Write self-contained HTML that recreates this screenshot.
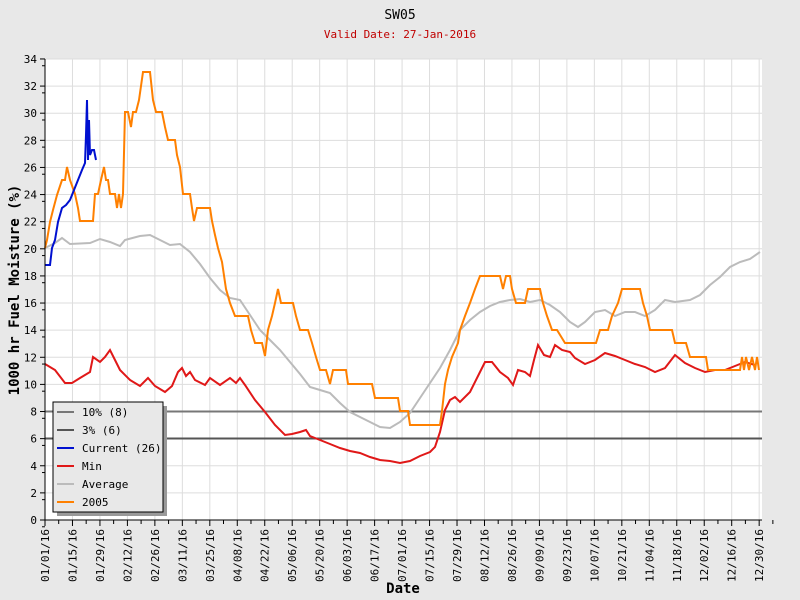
<!DOCTYPE html>
<html><head><meta charset="utf-8"><style>
html,body{margin:0;padding:0;background:#e8e8e8;}
svg{display:block;font-family:"DejaVu Sans Mono","Liberation Mono",monospace;}
</style></head><body>
<svg id="s" width="800" height="600" xmlns="http://www.w3.org/2000/svg">
<rect width="800" height="600" fill="#e8e8e8"/>
<rect x="45" y="59" width="717" height="461" fill="#fff"/>
<g id="grid"></g>
<line x1="45" y1="411.5" x2="762" y2="411.5" stroke="#777" stroke-width="2"/>
<line x1="45" y1="438.5" x2="762" y2="438.5" stroke="#555" stroke-width="2"/>
<polyline fill="none" stroke="#bbb" stroke-width="2" points="45,248 55,243 62,238 70,244 90,243 100,239 110,242 120,246 125,240 140,236 150,235 160,240 170,245 180,244 190,252 200,264 210,278 220,290 230,298 240,300 250,315 260,330 270,340 280,350 290,362 300,374 310,387 320,390 330,393 340,403 350,412 360,417 370,422 380,427 390,428 400,422 410,413 420,398 430,383 440,368 450,350 460,330 470,320 480,312 490,306 500,302 510,300 520,299 530,302 540,300 550,305 560,312 570,322 578,327 585,322 595,312 605,310 615,316 625,312 635,312 645,316 655,310 665,300 675,302 690,300 700,295 710,285 720,277 730,267 740,262 750,259 760,252"/>
<polyline fill="none" stroke="#e01818" stroke-width="2" points="45,364 55,370 65,383 72,383 80,378 90,372 93,357 100,362 105,357 110,350 115,360 120,370 130,380 140,386 148,378 155,386 165,392 172,386 178,372 182,368 186,376 190,372 195,380 205,385 210,378 220,385 230,378 236,383 240,378 245,385 255,400 265,412 275,425 285,435 292,434 300,432 306,430 310,436 320,440 330,444 340,448 350,451 360,453 370,457 380,460 390,461 400,463 410,461 420,456 430,452 435,447 440,432 445,410 450,400 455,397 460,402 470,392 478,376 485,362 492,362 500,372 508,378 513,385 518,370 525,372 530,376 534,360 538,345 544,355 550,357 555,345 562,350 570,352 575,358 585,364 595,360 605,353 615,356 625,360 635,364 645,367 655,372 665,368 675,355 685,363 695,368 705,372 715,370 725,370 735,366 745,362 755,365"/>
<polyline fill="none" stroke="#ff8000" stroke-width="2" points="45,248 47,240 50,222 53,210 57,195 62,180 65,180 67,167 70,180 75,194 78,208 80,221 93,221 95,194 98,194 101,180 104,167 106,180 108,180 110,194 115,194 117,208 119,194 121,208 123,194 125,112 128,112 131,127 133,112 136,112 139,100 143,72 150,72 153,100 156,112 162,112 165,127 168,140 175,140 177,155 180,167 183,194 190,194 192,208 194,221 197,208 210,208 212,221 215,235 218,248 222,262 226,289 230,303 235,316 248,316 251,330 255,343 262,343 265,356 268,330 272,316 275,303 278,289 281,303 293,303 296,316 300,330 308,330 312,343 316,357 320,370 326,370 330,384 333,370 346,370 348,384 372,384 375,398 398,398 400,411 408,411 410,425 440,425 442,411 445,384 448,370 452,357 458,343 460,330 465,316 470,303 475,289 480,276 500,276 503,289 506,276 510,276 512,289 516,303 525,303 528,289 540,289 543,303 547,316 552,330 557,330 565,343 596,343 600,330 608,330 612,316 618,303 622,289 640,289 643,303 647,316 650,330 672,330 675,343 686,343 690,357 706,357 708,370 740,370 742,357 744,370 746,357 749,370 752,357 755,370 757,357 759,370"/>
<polyline fill="none" stroke="#0010d0" stroke-width="2" points="45,265 50,265 52,248 55,240 58,222 62,208 66,205 70,200 74,190 78,180 82,170 85,163 86,135 87,100 88,160 89,120 90,155 92,150 94,150 96,160"/>
<line x1="45" y1="59" x2="45" y2="520" stroke="#000"/>
<line x1="45" y1="520" x2="762" y2="520" stroke="#000"/>
<g id="ax" font-size="11" fill="#000"></g>
<rect x="57" y="406" width="110" height="110" fill="#999"/>
<rect x="53" y="402" width="110" height="110" fill="#e8e8e8" stroke="#000"/>
<g font-size="11">
<line x1="57" y1="412" x2="74" y2="412" stroke="#777" stroke-width="2"/><text x="82" y="416">10% (8)</text>
<line x1="57" y1="430" x2="74" y2="430" stroke="#555" stroke-width="2"/><text x="82" y="434">3% (6)</text>
<line x1="57" y1="448" x2="74" y2="448" stroke="#0010d0" stroke-width="2"/><text x="82" y="452">Current (26)</text>
<line x1="57" y1="466" x2="74" y2="466" stroke="#e01818" stroke-width="2"/><text x="82" y="470">Min</text>
<line x1="57" y1="484" x2="74" y2="484" stroke="#bbb" stroke-width="2"/><text x="82" y="488">Average</text>
<line x1="57" y1="502" x2="74" y2="502" stroke="#ff8000" stroke-width="2"/><text x="82" y="506">2005</text>
</g>
<text x="400" y="19" font-size="13" text-anchor="middle">SW05</text>
<text x="400" y="38" font-size="11" text-anchor="middle" fill="#c00000">Valid Date: 27-Jan-2016</text>
<text x="403" y="593" font-size="14" font-weight="bold" text-anchor="middle">Date</text>
<text transform="translate(19,290) rotate(-90)" font-size="14" font-weight="bold" text-anchor="middle">1000 hr Fuel Moisture (%)</text>
</svg>
<script>
var g=document.getElementById('grid'),ax=document.getElementById('ax'),NS='http://www.w3.org/2000/svg';
function el(p,t,a,txt){var e=document.createElementNS(NS,t);for(var k in a)e.setAttribute(k,a[k]);if(txt)e.textContent=txt;p.appendChild(e);}
for(var v=0;v<=34;v+=2){var y=520-v*13.56;
 if(v>0)el(g,'line',{x1:45,x2:762,y1:y,y2:y,stroke:'#ddd'});
 el(ax,'line',{x1:40,x2:45,y1:y,y2:y,stroke:'#000'});
 el(ax,'line',{x1:42,x2:45,y1:y+6.78,y2:y+6.78,stroke:'#000'});
 el(ax,'text',{x:37,y:y+4,'text-anchor':'end'},''+v);}
var labs=['01/01','01/15','01/29','02/12','02/26','03/11','03/25','04/08','04/22','05/06','05/20','06/03','06/17','07/01','07/15','07/29','08/12','08/26','09/09','09/23','10/07','10/21','11/04','11/18','12/02','12/16','12/30'];
for(var i=0;i<labs.length;i++){var x=45+i*14*1.962;
 if(i>0)el(g,'line',{x1:x,x2:x,y1:59,y2:520,stroke:'#ddd'});
 el(ax,'line',{x1:x,x2:x,y1:520,y2:526,stroke:'#000'});
 el(ax,'line',{x1:x+13.7,x2:x+13.7,y1:520,y2:524,stroke:'#000'});
 el(ax,'text',{transform:'translate('+(x+4)+',529) rotate(-90)','text-anchor':'end'},labs[i]+'/16');}
</script>
</body></html>
